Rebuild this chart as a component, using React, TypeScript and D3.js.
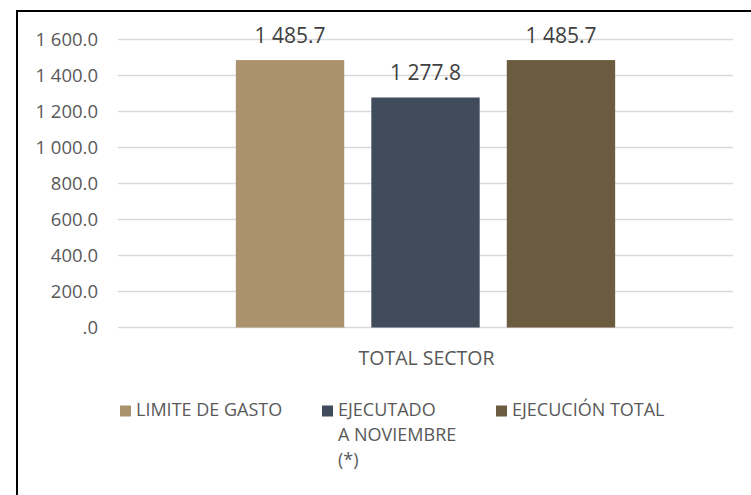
import * as d3 from 'd3';

// chart data
const categories = ['TOTAL SECTOR'];
const seriesNames = ['LIMITE DE GASTO', 'EJECUTADO A NOVIEMBRE (*)', 'EJECUCIÓN TOTAL'];
const seriesValues = [1485.7, 1277.8, 1485.7];
const seriesColors = ['#AA926E', '#404C5B', '#6B5B3F'];
// legend text as Excel wrapped it
const legendLines = [['LIMITE DE GASTO'], ['EJECUTADO', 'A NOVIEMBRE', '(*)'], ['EJECUCIÓN TOTAL']];
const yTicks = [0, 200, 400, 600, 800, 1000, 1200, 1400, 1600];

const W = 751;
const H = 495;
const FONT = '"Open Sans", "Liberation Sans", sans-serif';

// "1 485.7" style numbers, ".0" for zero
const locale = d3.formatLocale({ decimal: '.', thousands: ' ', grouping: [3], currency: ['', ''] });
const fmt1 = locale.format(',.1f');
const fmt = (v: number) => fmt1(v).replace(/^0\./, '.');

export default function App() {
  const plotLeft = 118;
  const plotRight = 733;
  const plotTop = 39.5;
  const plotBottom = 327.5;

  const y = d3.scaleLinear().domain([0, 1600]).range([plotBottom, plotTop]);
  const x0 = d3.scaleBand<string>().domain(categories).range([plotLeft, plotRight]).padding(0);
  const x1 = d3
    .scaleBand<string>()
    .domain(seriesNames)
    .range([0, x0.bandwidth()])
    .paddingInner(0.2)
    .paddingOuter(0.87);

  // legend: square + text, starting points follow Excel's layout
  const legendX = [120, 322, 496];

  return (
    <svg
      width={W}
      height={H}
      style={{ position: 'absolute', left: 0, top: 0, background: '#fff' }}
      fontFamily={FONT}
    >
      <rect x={0} y={0} width={W} height={H} fill="#fff" />
      {/* outer frame (right/bottom edges fall outside the crop) */}
      <path d={`M17,${H} L17,11 L${W},11`} fill="none" stroke="#000" strokeWidth={2} />

      {/* gridlines + y labels */}
      {yTicks.map(t => (
        <g key={t}>
          <line x1={plotLeft} x2={plotRight} y1={y(t)} y2={y(t)} stroke="#D9D9D9" strokeWidth={1.3} />
          <text
            x={98}
            y={y(t)}
            dy="0.36em"
            textAnchor="end"
            fontSize={18.5}
            fill="#595959"
          >
            {fmt(t)}
          </text>
        </g>
      ))}

      {/* bars */}
      {categories.map(c => (
        <g key={c} transform={`translate(${x0(c)},0)`}>
          {seriesNames.map((s, i) => (
            <g key={s}>
              <rect
                x={x1(s)}
                y={y(seriesValues[i])}
                width={x1.bandwidth()}
                height={y(0) - y(seriesValues[i])}
                fill={seriesColors[i]}
              />
              <text
                x={(x1(s) ?? 0) + x1.bandwidth() / 2}
                y={y(seriesValues[i]) - 17}
                textAnchor="middle"
                fontSize={21}
                fill="#404040"
              >
                {fmt(seriesValues[i])}
              </text>
            </g>
          ))}
          <text
            x={x0.bandwidth() / 2 + 1}
            y={364.5}
            textAnchor="middle"
            fontSize={19.5}
            fill="#595959"
          >
            {c}
          </text>
        </g>
      ))}

      {/* legend */}
      {seriesNames.map((s, i) => (
        <g key={s} transform={`translate(${legendX[i]},0)`}>
          <rect x={0} y={405.5} width={11} height={11} fill={seriesColors[i]} />
          {legendLines[i].map((line, j) => (
            <text key={j} x={16} y={416.3 + j * 24.7} fontSize={18} fill="#595959">
              {line}
            </text>
          ))}
        </g>
      ))}
    </svg>
  );
}
